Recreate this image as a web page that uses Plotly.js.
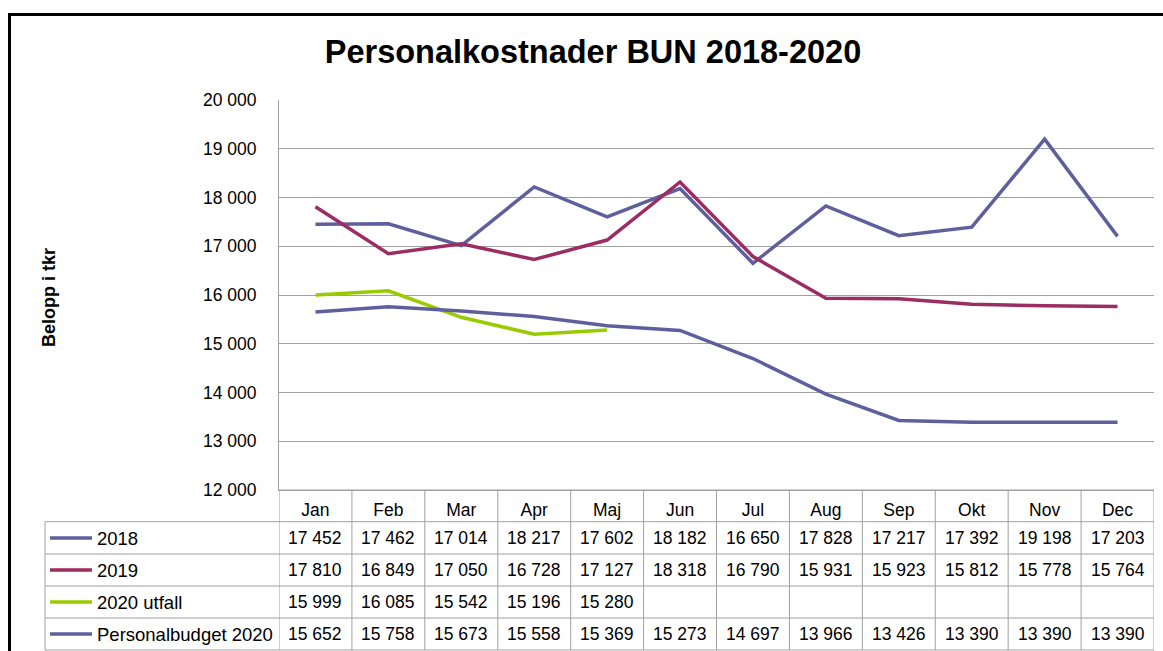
<!DOCTYPE html>
<html>
<head>
<meta charset="utf-8">
<script src="https://cdn.plot.ly/plotly-3.0.1.min.js"></script>
<style>html,body{margin:0;padding:0;background:#fff;overflow:hidden}</style>
</head>
<body>
<div id="chart" style="width:1163px;height:651px"></div>
<script>
const months = ["Jan","Feb","Mar","Apr","Maj","Jun","Jul","Aug","Sep","Okt","Nov","Dec"];
const seriesNames = ["2018","2019","2020 utfall","Personalbudget 2020"];
const v2018 = [17452,17462,17014,18217,17602,18182,16650,17828,17217,17392,19198,17203];
const v2019 = [17810,16849,17050,16728,17127,18318,16790,15931,15923,15812,15778,15764];
const v2020 = [15999,16085,15542,15196,15280,null,null,null,null,null,null,null];
const budget2020 = [15652,15758,15673,15558,15369,15273,14697,13966,13426,13390,13390,13390];
const yTicks = [12000,13000,14000,15000,16000,17000,18000,19000,20000];

const allSeries = [v2018, v2019, v2020, budget2020];
const colors = ["#5F5F9E","#9B2D63","#99CC00","#5F5F9E"];

const FONT = "Liberation Sans, Arial, sans-serif";
const W = 1163, H = 651;
const L = 279, R = 1154, T = 100, B = 490;
const pw = R - L, ph = B - T;
const px = x => (x - L) / pw;
const py = y => (B - y) / ph;

function fmt(v){
  if (v === null || v === undefined) return "";
  const s = String(Math.round(v));
  return s.replace(/\B(?=(\d{3})+(?!\d))/g, " ");
}

const traces = allSeries.map((s, i) => ({
  type: "scatter", mode: "lines", x: months, y: s, name: seriesNames[i],
  line: {color: colors[i], width: 3.5}, connectgaps: false, hoverinfo: "skip"
}));

// table geometry (pixel rows)
const rowEdges = [521.7, 554, 586, 618, 650];
const rowCenters = [538, 570, 602, 634];

const shapes = [];
const gray = "#A0A0A0";
shapes.push({type:"line", xref:"paper", yref:"paper", x0:0, x1:1, y0:0, y1:0, line:{color:gray,width:1}});
rowEdges.forEach(y => shapes.push({type:"line", xref:"paper", yref:"paper", x0:px(45), x1:1, y0:py(y), y1:py(y), line:{color:gray,width:1}}));
shapes.push({type:"line", xref:"paper", yref:"paper", x0:px(45), x1:px(45), y0:py(rowEdges[0]), y1:py(650), line:{color:gray,width:1}});
for (let k = 0; k <= months.length; k++) {
  shapes.push({type:"line", xref:"x", yref:"paper", x0:k-0.5, x1:k-0.5, y0:0, y1:py(650), line:{color:gray,width:1}});
}
seriesNames.forEach((n, i) => {
  shapes.push({type:"line", xref:"paper", yref:"paper", x0:px(50), x1:px(92), y0:py(rowCenters[i]), y1:py(rowCenters[i]), line:{color:colors[i], width:3.5}});
});
shapes.push({type:"rect", xref:"paper", yref:"paper", x0:px(9.5), x1:px(1200), y0:py(14.5), y1:py(700), line:{color:"#000",width:3}, fillcolor:"rgba(0,0,0,0)"});

const annotations = [];
seriesNames.forEach((n, i) => {
  annotations.push({xref:"paper", yref:"paper", x:px(95), y:py(rowCenters[i]), xanchor:"left", yanchor:"middle",
    text:n, showarrow:false, font:{family:FONT, size:18.5, color:"#000"}});
  allSeries[i].forEach((v, j) => {
    if (v === null) return;
    annotations.push({xref:"x", yref:"paper", x:months[j], y:py(rowCenters[i]), xanchor:"center", yanchor:"middle",
      text:fmt(v), showarrow:false, font:{family:FONT, size:17.5, color:"#000"}});
  });
});
annotations.push({xref:"paper", yref:"paper", x:px(49), y:py(298), xanchor:"center", yanchor:"middle", textangle:-90,
  text:"<b>Belopp i tkr</b>", showarrow:false, font:{family:FONT, size:18, color:"#000"}});

const layout = {
  width: W, height: H,
  margin: {l: L, r: W - R, t: T, b: H - B, pad: 0},
  paper_bgcolor: "#fff", plot_bgcolor: "#fff",
  separators: ", ",
  showlegend: false,
  title: {text: "<b>Personalkostnader BUN 2018-2020</b>", x: px(593), xanchor: "center", xref: "paper",
          y: 1 - 52 / H, yanchor: "middle", font: {family: FONT, size: 32.5, color: "#000"}},
  xaxis: {type: "category", range: [-0.5, 11.5], showgrid: false, showline: true, linecolor: gray, linewidth: 1,
          ticks: "", ticklabelstandoff: 4, tickfont: {family: FONT, size: 17.5, color: "#000"}, zeroline: false, fixedrange: true},
  yaxis: {range: [12000, 20000], tickvals: yTicks, ticktext: yTicks.map(fmt), showgrid: true, gridcolor: gray, gridwidth: 1,
          showline: true, linecolor: gray, linewidth: 1, ticks: "", ticklabelstandoff: 18,
          tickfont: {family: FONT, size: 17.5, color: "#000"}, zeroline: false, fixedrange: true},
  shapes: shapes,
  annotations: annotations
};

Plotly.newPlot("chart", traces, layout, {displayModeBar: false, staticPlot: true});
</script>
</body>
</html>
